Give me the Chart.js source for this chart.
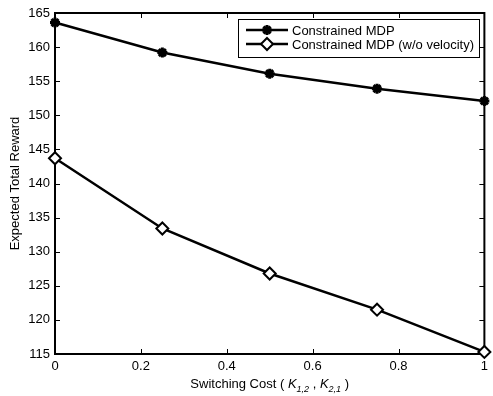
<!DOCTYPE html>
<html>
<head>
<meta charset="utf-8">
<script src="https://cdn.jsdelivr.net/npm/chart.js@4.4.1/dist/chart.umd.min.js"></script>
<style>
html, body { margin: 0; padding: 0; background: #fff; }
</style>
</head>
<body>
<canvas id="grafico" width="493" height="396"></canvas>
<script>
const custos = [0, 0.25, 0.5, 0.75, 1];
const rewardMdp = [163.6, 159.2, 156.1, 153.9, 152.1];
const rewardSemVel = [143.7, 133.4, 126.8, 121.5, 115.3];
const nomesSeries = ["Constrained MDP", "Constrained MDP (w/o velocity)"];
const ticksX = [0, 0.2, 0.4, 0.6, 0.8, 1];
const ticksY = [115, 120, 125, 130, 135, 140, 145, 150, 155, 160, 165];

const fonte = '"Liberation Sans", Arial, sans-serif';

function desenhaMarcador(ctx, tipo, x, y) {
    ctx.save();
    ctx.strokeStyle = "#000";
    if (tipo === "star") {
        const r = 5;
        ctx.lineWidth = 3;
        ctx.beginPath();
        for (let k = 0; k < 4; k++) {
            const ang = k * Math.PI / 4;
            ctx.moveTo(x - Math.cos(ang) * r, y - Math.sin(ang) * r);
            ctx.lineTo(x + Math.cos(ang) * r, y + Math.sin(ang) * r);
        }
        ctx.stroke();
    } else {
        const r = 6;
        ctx.lineWidth = 2;
        ctx.fillStyle = "#fff";
        ctx.beginPath();
        ctx.moveTo(x, y - r);
        ctx.lineTo(x + r, y);
        ctx.lineTo(x, y + r);
        ctx.lineTo(x - r, y);
        ctx.closePath();
        ctx.fill();
        ctx.stroke();
    }
    ctx.restore();
}

const moldura = {
    id: "moldura",
    beforeDatasetsDraw(chart) {
        const { ctx, chartArea: a, scales: { x, y } } = chart;
        ctx.save();
        ctx.strokeStyle = "#000";
        ctx.lineWidth = 1;
        ctx.beginPath();
        x.ticks.forEach(t => {
            const px = Math.round(x.getPixelForValue(t.value)) + 0.5;
            ctx.moveTo(px, a.bottom); ctx.lineTo(px, a.bottom - 5);
            ctx.moveTo(px, a.top); ctx.lineTo(px, a.top + 5);
        });
        y.ticks.forEach(t => {
            const py = Math.round(y.getPixelForValue(t.value)) + 0.5;
            ctx.moveTo(a.left, py); ctx.lineTo(a.left + 5, py);
            ctx.moveTo(a.right, py); ctx.lineTo(a.right - 5, py);
        });
        ctx.stroke();
        ctx.lineWidth = 2;
        ctx.strokeRect(a.left, a.top, a.right - a.left, a.bottom - a.top);

        // titulo do eixo y
        ctx.fillStyle = "#000";
        ctx.font = "13px " + fonte;
        ctx.textAlign = "center";
        ctx.textBaseline = "middle";
        ctx.save();
        ctx.translate(15, (a.top + a.bottom) / 2);
        ctx.rotate(-Math.PI / 2);
        ctx.fillText("Expected Total Reward", 0, 0);
        ctx.restore();

        // titulo do eixo x com subscritos
        const partes = [
            { t: "Switching Cost ( ", f: "13px " + fonte, dy: 0 },
            { t: "K", f: "italic 13px " + fonte, dy: 0 },
            { t: "1,2", f: "italic 9px " + fonte, dy: 4 },
            { t: " , ", f: "13px " + fonte, dy: 0 },
            { t: "K", f: "italic 13px " + fonte, dy: 0 },
            { t: "2,1", f: "italic 9px " + fonte, dy: 4 },
            { t: " )", f: "13px " + fonte, dy: 0 }
        ];
        let total = 0;
        partes.forEach(p => { ctx.font = p.f; p.w = ctx.measureText(p.t).width; total += p.w; });
        let cx = (a.left + a.right) / 2 - total / 2;
        const base = 388;
        ctx.textAlign = "left";
        ctx.textBaseline = "alphabetic";
        partes.forEach(p => {
            ctx.font = p.f;
            ctx.fillText(p.t, cx, base + p.dy);
            cx += p.w;
        });
        ctx.restore();
    },
    afterDraw(chart) {
        const { ctx } = chart;
        ctx.save();
        const bx = 238, by = 19, bw = 241, bh = 38;
        ctx.fillStyle = "#fff";
        ctx.fillRect(bx, by, bw, bh);
        ctx.strokeStyle = "#000";
        ctx.lineWidth = 1;
        ctx.strokeRect(bx + 0.5, by + 0.5, bw, bh);
        const tipos = ["star", "rectRot"];
        nomesSeries.forEach((nome, i) => {
            const ly = by + 11 + i * 14;
            ctx.strokeStyle = "#000";
            ctx.lineWidth = 2.5;
            ctx.beginPath();
            ctx.moveTo(bx + 8, ly);
            ctx.lineTo(bx + 50, ly);
            ctx.stroke();
            desenhaMarcador(ctx, tipos[i], bx + 29, ly);
            ctx.fillStyle = "#000";
            ctx.font = "13px " + fonte;
            ctx.textAlign = "left";
            ctx.textBaseline = "middle";
            ctx.fillText(nome, bx + 54, ly + 1);
        });
        ctx.restore();
    }
};

new Chart(document.getElementById("grafico"), {
    type: "line",
    data: {
        datasets: [
            {
                label: nomesSeries[0],
                data: custos.map((c, i) => ({ x: c, y: rewardMdp[i] })),
                borderColor: "#000",
                borderWidth: 2.5,
                pointStyle: "star",
                pointRadius: 5,
                pointBorderWidth: 3,
                pointBorderColor: "#000",
                pointBackgroundColor: "#000",
                clip: false
            },
            {
                label: nomesSeries[1],
                data: custos.map((c, i) => ({ x: c, y: rewardSemVel[i] })),
                borderColor: "#000",
                borderWidth: 2.5,
                pointStyle: "rectRot",
                pointRadius: 6,
                pointBorderWidth: 2,
                pointBorderColor: "#000",
                pointBackgroundColor: "#fff",
                clip: false
            }
        ]
    },
    options: {
        responsive: false,
        animation: false,
        events: [],
        layout: { padding: { top: 13, right: 5, left: 0, bottom: 0 } },
        plugins: {
            legend: { display: false },
            tooltip: { enabled: false }
        },
        scales: {
            x: {
                type: "linear",
                min: 0,
                max: 1,
                afterBuildTicks: s => { s.ticks = ticksX.map(v => ({ value: v })); },
                afterFit: s => { s.height = 42; },
                grid: { display: false, drawTicks: false },
                border: { display: false },
                ticks: {
                    color: "#000",
                    font: { size: 13, family: fonte },
                    padding: 5,
                    maxRotation: 0,
                    callback: v => String(v)
                }
            },
            y: {
                min: 115,
                max: 165,
                afterBuildTicks: s => { s.ticks = ticksY.map(v => ({ value: v })); },
                afterFit: s => { s.width = 55; },
                grid: { display: false, drawTicks: false },
                border: { display: false },
                ticks: {
                    color: "#000",
                    font: { size: 13, family: fonte },
                    padding: 5,
                    callback: v => String(v)
                }
            }
        }
    },
    plugins: [moldura]
});
</script>
</body>
</html>
